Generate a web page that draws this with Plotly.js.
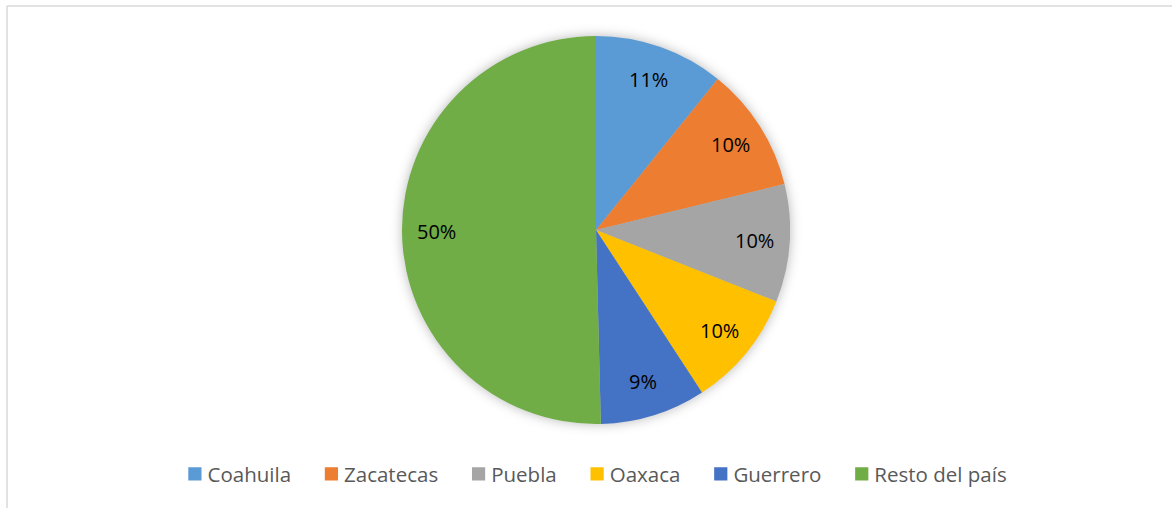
<!DOCTYPE html>
<html>
<head>
<meta charset="utf-8">
<script src="https://cdn.plot.ly/plotly-3.0.1.min.js"></script>
<style>
  html, body { margin: 0; padding: 0; background: #ffffff; }
  #chart { width: 1172px; height: 508px; }
  .pielayer { filter: drop-shadow(0px 0px 6px rgba(0,0,0,0.28)); }
</style>
</head>
<body>
<div id="chart"></div>
<script>
const categories = ["Coahuila", "Zacatecas", "Puebla", "Oaxaca", "Guerrero", "Resto del país"];
const shares = [10.8, 10.4, 9.8, 9.8, 8.8, 50.4];
const colors = ["#5b9bd5", "#ed7d31", "#a5a5a5", "#ffc000", "#4472c4", "#70ad47"];

const W = 1172, H = 508;
// pie geometry (pixels)
const CX = 596, CY = 230, R = 194;
const LABEL_R = 0.82 * R;

const trace = {
  type: "pie",
  labels: categories,
  values: shares,
  sort: false,
  direction: "clockwise",
  rotation: 0,
  marker: { colors: colors, line: { color: "#ffffff", width: 0 } },
  textinfo: "none",
  hoverinfo: "none",
  domain: { x: [(CX - R) / W, (CX + R) / W], y: [(H - CY - R) / H, (H - CY + R) / H] }
};

// percentage labels placed along the slice bisectors, computed from the data
const total = shares.reduce((a, b) => a + b, 0);
let cum = 0;
const annotations = shares.map((v) => {
  const mid = (cum + v / 2) / total * 2 * Math.PI;
  cum += v;
  const px = CX + LABEL_R * Math.sin(mid);
  const py = CY - LABEL_R * Math.cos(mid);
  return {
    xref: "paper", yref: "paper",
    x: px / W, y: 1 - py / H,
    xanchor: "center", yanchor: "middle",
    showarrow: false,
    text: Math.round(v / total * 100) + "%",
    font: { family: "Open Sans, sans-serif", size: 20, color: "#000000" }
  };
});

const layout = {
  width: W,
  height: H,
  margin: { l: 0, r: 0, t: 0, b: 0 },
  paper_bgcolor: "#ffffff",
  showlegend: true,
  legend: {
    orientation: "h",
    x: 0.5,
    xanchor: "center",
    y: 34 / H,
    yanchor: "middle",
    itemwidth: 38,
    font: { family: "Open Sans, sans-serif", size: 20.5, color: "#595959" },
    itemclick: false,
    itemdoubleclick: false
  },
  annotations: annotations,
  shapes: [
    { type: "line", xref: "paper", yref: "paper", x0: 7 / W, x1: 1.0, y0: 1 - 6 / H, y1: 1 - 6 / H,
      line: { color: "#d9d9d9", width: 1.5 } },
    { type: "line", xref: "paper", yref: "paper", x0: 7 / W, x1: 7 / W, y0: 0, y1: 1 - 6 / H,
      line: { color: "#d9d9d9", width: 1.5 } }
  ]
};

Plotly.newPlot("chart", [trace], layout, { displayModeBar: false, staticPlot: true }).then(() => {
  // put the swatch right next to its text and enlarge it slightly, like the reference
  document.querySelectorAll("#chart .legend .traces").forEach((g) => {
    const text = g.querySelector(".legendtext");
    const pts = g.querySelector(".legendpoints");
    if (!text || !pts) return;
    const tx = parseFloat(text.getAttribute("x")) || 40;
    const bb = pts.getBBox();
    const s = 1.1;
    const cx = bb.x + bb.width / 2, cy = bb.y + bb.height / 2;
    const ncx = tx - 6 - s * bb.width / 2;
    pts.setAttribute("transform", `translate(${ncx},${cy}) scale(${s}) translate(${-cx},${-cy})`);
  });
});
</script>
</body>
</html>
